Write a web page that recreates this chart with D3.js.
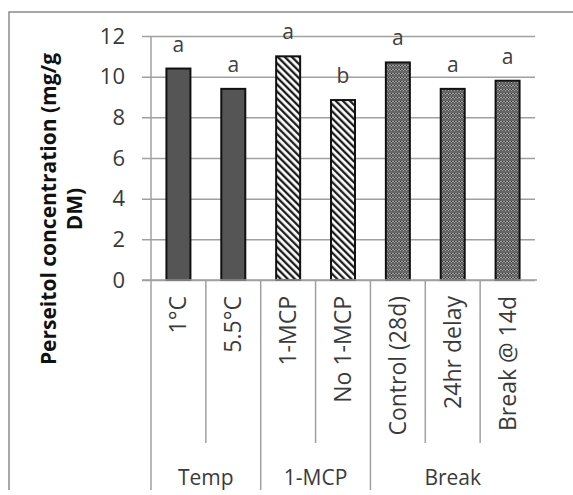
<!DOCTYPE html>
<html>
<head>
<meta charset="utf-8">
<script src="https://cdn.jsdelivr.net/npm/d3@7"></script>
<style>
  body { margin: 0; background: #fff; }
  svg text { font-family: "Open Sans", sans-serif; }
</style>
</head>
<body>
<div id="chart"></div>
<script>
// data
var categories = ["1°C", "5.5°C", "1-MCP", "No 1-MCP", "Control (28d)", "24hr delay", "Break @ 14d"];
var groups = ["Temp", "Temp", "1-MCP", "1-MCP", "Break", "Break", "Break"];
var values = [10.4, 9.4, 11.0, 8.85, 10.7, 9.4, 9.8];
var letters = ["a", "a", "a", "b", "a", "a", "a"];
var yTicks = [0, 2, 4, 6, 8, 10, 12];
var groupNames = ["Temp", "1-MCP", "Break"];

var W = 573, H = 495;
var plotLeft = 151, plotRight = 535, plotTop = 36, plotBottom = 280;

var svg = d3.select("#chart").append("svg")
    .attr("width", W).attr("height", H);

// patterns for the bar fills
var defs = svg.append("defs");
var hatch = defs.append("pattern")
    .attr("id", "hatch")
    .attr("patternUnits", "userSpaceOnUse")
    .attr("width", 5).attr("height", 5)
    .attr("patternTransform", "rotate(-45)");
hatch.append("rect").attr("width", 5).attr("height", 5).attr("fill", "#fff");
hatch.append("line").attr("x1", 1.2).attr("y1", 0).attr("x2", 1.2).attr("y2", 5)
    .attr("stroke", "#111").attr("stroke-width", 2.2);

var weave = defs.append("pattern")
    .attr("id", "weave")
    .attr("patternUnits", "userSpaceOnUse")
    .attr("width", 6).attr("height", 4);
weave.append("rect").attr("width", 6).attr("height", 4).attr("fill", "#666");
weave.append("path").attr("d", "M0,3 L1.5,1 L3,3 L4.5,1 L6,3")
    .attr("fill", "none").attr("stroke", "#222").attr("stroke-width", 1);
weave.append("path").attr("d", "M0,1 L1.5,3 L3,1 L4.5,3 L6,1")
    .attr("fill", "none").attr("stroke", "#c4c4c4").attr("stroke-width", 0.8);

var fills = { "Temp": "#555555", "1-MCP": "url(#hatch)", "Break": "url(#weave)" };

// outer frame
svg.append("path")
    .attr("d", "M9," + (H - 5) + " L9,12 L" + W + ",12")
    .attr("fill", "none").attr("stroke", "#8a8a8a").attr("stroke-width", 1.5);

var x = d3.scaleBand().domain(categories).range([plotLeft, plotRight]).paddingInner(0).paddingOuter(0);
var y = d3.scaleLinear().domain([0, 12]).range([plotBottom, plotTop]);

// gridlines + y tick labels
var yAxis = svg.append("g")
    .attr("transform", "translate(" + plotLeft + ",0)")
    .call(d3.axisLeft(y).tickValues(yTicks).tickSize(-(plotRight - plotLeft)).tickSizeOuter(0).tickPadding(26));
yAxis.select(".domain").remove();
yAxis.selectAll(".tick line")
    .attr("x1", -9)
    .attr("stroke", "#a0a0a0").attr("stroke-width", 1.5);
yAxis.selectAll(".tick text")
    .style("font-size", "22px").attr("fill", "#3a3a3a");

// vertical axis line
svg.append("line")
    .attr("x1", plotLeft).attr("x2", plotLeft).attr("y1", plotTop).attr("y2", plotBottom)
    .attr("stroke", "#a0a0a0").attr("stroke-width", 1.5);

// separators under the axis
categories.forEach(function(c, i) {
  var bx = x(c);
  var isGroup = i === 0 || groups[i] !== groups[i - 1];
  svg.append("line")
    .attr("x1", bx).attr("x2", bx)
    .attr("y1", plotBottom).attr("y2", isGroup ? 490 : 443)
    .attr("stroke", "#a0a0a0").attr("stroke-width", 1.5);
});

// bars
var data = categories.map(function(c, i) {
  return { cat: c, value: values[i], group: groups[i], letter: letters[i] };
});
var bw = 24;
svg.selectAll(".bar")
    .data(data)
    .enter().append("rect")
    .attr("class", "bar")
    .attr("x", function(d) { return x(d.cat) + x.bandwidth() / 2 - bw / 2; })
    .attr("y", function(d) { return y(d.value); })
    .attr("width", bw)
    .attr("height", function(d) { return plotBottom - y(d.value); })
    .attr("fill", function(d) { return fills[d.group]; })
    .attr("stroke", "#111").attr("stroke-width", 2);

// significance letters
svg.selectAll(".sig")
    .data(data)
    .enter().append("text")
    .attr("class", "sig")
    .attr("x", function(d) { return x(d.cat) + x.bandwidth() / 2; })
    .attr("y", function(d) { return y(d.value) - 17; })
    .attr("text-anchor", "middle")
    .style("font-size", "21px")
    .attr("fill", "#404040")
    .text(function(d) { return d.letter; });

// zero line
svg.append("line")
    .attr("x1", plotLeft - 9).attr("x2", plotRight + 2).attr("y1", plotBottom).attr("y2", plotBottom)
    .attr("stroke", "#a0a0a0").attr("stroke-width", 1.5);

// rotated category labels
svg.selectAll(".cat")
    .data(categories)
    .enter().append("text")
    .attr("class", "cat")
    .attr("transform", function(d) {
      return "translate(" + (x(d) + x.bandwidth() / 2 + 8) + ",296) rotate(-90)";
    })
    .attr("text-anchor", "end")
    .style("font-size", "23px")
    .attr("fill", "#3a3a3a")
    .text(function(d) { return d; });

// group labels
groupNames.forEach(function(g) {
  var idx = [];
  groups.forEach(function(gg, i) { if (gg === g) idx.push(i); });
  var x0 = x(categories[idx[0]]);
  var x1 = x(categories[idx[idx.length - 1]]) + x.bandwidth();
  svg.append("text")
    .attr("x", (x0 + x1) / 2)
    .attr("y", 485)
    .attr("text-anchor", "middle")
    .style("font-size", "21px")
    .attr("fill", "#3a3a3a")
    .text(g);
});

// y axis title, two lines
var title = svg.append("text")
    .attr("transform", "translate(56,209) rotate(-90)")
    .attr("text-anchor", "middle")
    .style("font-size", "21px")
    .style("font-weight", "bold")
    .attr("fill", "#111");
title.append("tspan").attr("x", 0).attr("y", 0).text("Perseitol concentration (mg/g");
title.append("tspan").attr("x", 0).attr("y", 26).text("DM)");
</script>
</body>
</html>
